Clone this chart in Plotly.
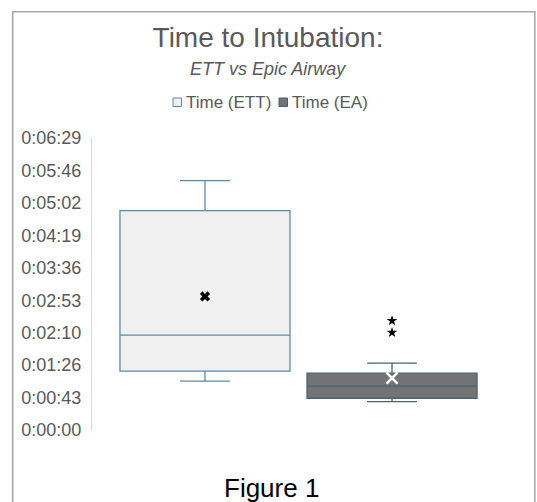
import plotly.graph_objects as go

# ---- data (seconds) ----
categories = ["Time (ETT)", "Time (EA)"]
q1 = [78.3, 42.3]
median = [126.3, 58.3]
q3 = [292.1, 75.6]
lower_fence = [65.0, 37.7]
upper_fence = [332.1, 89.0]
means = [177.8, 69.0]
ea_outliers = [145.4, 129.8]

tick_seconds = [0, 43.2, 86.4, 129.6, 172.8, 216.0, 259.2, 302.4, 345.6, 388.8]
tick_labels = ["0:00:00", "0:00:43", "0:01:26", "0:02:10", "0:02:53",
               "0:03:36", "0:04:19", "0:05:02", "0:05:46", "0:06:29"]

# ---- layout geometry (pixels) ----
W, H = 537, 502
L, R, T, B = 92, 32, 138, 72
PW, PH = W - L - R, H - T - B

def px_x(p):
    return (p - L) / PW

def px_y(p):
    return (H - B - p) / PH

FONT = "Liberation Sans, Arial, sans-serif"
GRAY = "#595959"

ett_fill, ett_line = "#f0f0f0", "#5d8ba6"
ea_fill, ea_line = "#737373", "#4a6275"

fig = go.Figure()

for i, (fill, line) in enumerate([(ett_fill, ett_line), (ea_fill, ea_line)]):
    fig.add_trace(go.Box(
        x=[categories[i]], q1=[q1[i]], median=[median[i]], q3=[q3[i]],
        lowerfence=[lower_fence[i]], upperfence=[upper_fence[i]],
        name=categories[i], fillcolor=fill, line=dict(color=line, width=1.3),
        width=0.909, whiskerwidth=0.294, boxpoints=False, showlegend=False,
        hoverinfo="skip",
    ))

# mean markers
fig.add_trace(go.Scatter(
    x=[categories[0]], y=[means[0]], mode="markers", showlegend=False,
    marker=dict(symbol="x", size=9, color="black", line=dict(width=0)),
))
fig.add_trace(go.Scatter(
    x=[categories[1]], y=[means[1]], mode="markers", showlegend=False,
    marker=dict(symbol="x-thin", size=11, color="white",
                line=dict(width=2.6, color="white")),
))
# outliers
fig.add_trace(go.Scatter(
    x=[categories[1]] * len(ea_outliers), y=ea_outliers, mode="markers",
    showlegend=False,
    marker=dict(symbol="star", size=8, color="black", line=dict(width=0)),
))

shapes = [
    # outer chart border (bottom runs off the picture)
    dict(type="rect", xref="paper", yref="paper",
         x0=px_x(12.7), x1=px_x(534.8), y0=px_y(520), y1=px_y(11.8),
         line=dict(color="#a9a9a9", width=1.6), fillcolor="rgba(0,0,0,0)",
         layer="above"),
    # legend icons
    dict(type="rect", xref="paper", yref="paper",
         x0=px_x(173), x1=px_x(181.5), y0=px_y(106.5), y1=px_y(98),
         line=dict(color=ett_line, width=1), fillcolor=ett_fill),
    dict(type="rect", xref="paper", yref="paper",
         x0=px_x(279), x1=px_x(287.5), y0=px_y(106.5), y1=px_y(98),
         line=dict(color=ea_line, width=1), fillcolor=ea_fill),
]

annotations = [
    dict(text="<i>ETT vs Epic Airway</i>", x=px_x(268), y=px_y(69),
         font=dict(family=FONT, size=18, color=GRAY)),
    dict(text=categories[0], x=px_x(184), y=px_y(102.5), xanchor="left",
         font=dict(family=FONT, size=17, color=GRAY)),
    dict(text=categories[1], x=px_x(290), y=px_y(102.5), xanchor="left",
         font=dict(family=FONT, size=17, color=GRAY)),
    dict(text="Figure 1", x=px_x(271), y=px_y(488),
         font=dict(family=FONT, size=26, color="#000000")),
]
for a in annotations:
    a.update(xref="paper", yref="paper", showarrow=False,
             xanchor=a.get("xanchor", "center"), yanchor="middle")

fig.update_layout(
    width=W, height=H,
    margin=dict(l=L, r=R, t=T, b=B, pad=0),
    paper_bgcolor="white", plot_bgcolor="white",
    title=dict(text="Time to Intubation:", x=268 / W, xanchor="center",
               xref="container", yref="container", y=1 - 37 / H,
               yanchor="middle", font=dict(family=FONT, size=28, color=GRAY)),
    shapes=shapes, annotations=annotations,
    xaxis=dict(type="category", categoryorder="array", categoryarray=categories,
               range=[-0.604, 1.604], showticklabels=False, showgrid=False,
               zeroline=False, showline=False, ticks="", fixedrange=True),
    yaxis=dict(range=[0, 388.8], tickmode="array", tickvals=tick_seconds,
               ticktext=tick_labels, showgrid=False, zeroline=False,
               showline=True, linecolor="#d9d9d9", linewidth=1, ticks="",
               ticklabelstandoff=6, automargin=False,
               tickfont=dict(family=FONT, size=18, color=GRAY)),
    showlegend=False,
)

fig.write_html("out.html")
